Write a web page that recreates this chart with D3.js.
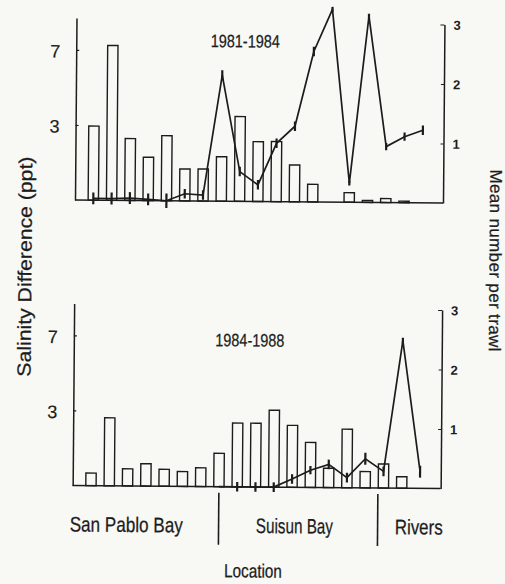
<!DOCTYPE html>
<html>
<head>
<meta charset="utf-8">
<script src="https://cdn.jsdelivr.net/npm/d3@7"></script>
<style>
  html, body { margin: 0; padding: 0; background: #f8f8f5; }
  svg { display: block; }
  .narrow { font-family: "Liberation Sans Narrow", "Arial Narrow", "Liberation Sans", Arial, sans-serif; stroke: #1c1c1c; stroke-width: 0.25; }
</style>
</head>
<body>
<script>
// ---------- DATA ----------
const stations = ["1","2","3","4","5","6","7","8","9","10","11","12","13","14","15","16","17","18","19"];

// Salinity difference (ppt) bars, read against the axis ticks (axis floor = -1)
const salinity8184 = [2.95, 7.25, 2.3, 1.31, 2.47, 0.7, 0.71, 1.37, 3.52, 2.19, 2.2, 0.96, -0.06, -1, -0.49, -0.9, -0.79, -0.92, -1];
const salinity8488 = [-0.33, 2.62, -0.09, 0.19, -0.1, -0.21, 0.0, 0.78, 2.4, 2.4, 3.1, 2.3, 1.4, 0.03, 2.12, -0.13, 0.28, -0.39, -1];

// Mean number per trawl (line) and error half-widths
const catch8184 = [0.03, 0.03, 0.04, 0.02, 0.0, 0.12, 0.1, 2.12, 0.5, 0.28, 0.98, 1.27, 2.53, 3.24, 0.32, 3.13, 0.94, 1.11, 1.22];
const err8184   = [0.1, 0.1, 0.1, 0.1, 0.12, 0.08, 0.08, 0.08, 0.08, 0.08, 0.08, 0.08, 0.08, 0.04, 0.04, 0.04, 0.06, 0.07, 0.08];
const catch8488 = [null, null, null, null, null, null, null, 0, 0, 0, 0, 0.14, 0.29, 0.39, 0.17, 0.49, 0.28, 2.48, 0.28];
const err8488   = [null, null, null, null, null, null, null, 0, 0.08, 0.08, 0.08, 0.08, 0.07, 0.08, 0.08, 0.1, 0.08, 0.05, 0.1];

const periodTitles = ["1981-1984", "1984-1988"];
const salinityTicks = [3, 7];
const salinityTickLabels = ["3", "7"];
const catchTicks = [1, 2, 3];

const regionNames = ["San Pablo Bay", "Suisun Bay", "Rivers"];
const regionCenters = [1.95, 11.15, 17.95];   // in station-index units
const regionDividers = [7.0, 15.7];           // in station-index units

// ---------- LAYOUT ----------
const W = 505, H = 584;
const x0 = 75, x1 = 443;
const ink = "#1c1c1c";

const svg = d3.select("body").append("svg").attr("width", W).attr("height", H);
svg.append("rect").attr("width", W).attr("height", H).attr("fill", "#f8f8f5");

// slight scan skew
const g = svg.append("g").attr("transform", "rotate(0.47,75,200)");

const x = d3.scalePoint().domain(stations).range([93.3, 422.3]);
const xIdx = i => x(stations[0]) + i * x.step();
const bw = 10.3;

const panels = [
  { title: periodTitles[0], sal: salinity8184, num: catch8184, err: err8184, base: 200, top: 18, tx: 244, ty: 46 },
  { title: periodTitles[1], sal: salinity8488, num: catch8488, err: err8488, base: 485.5, top: 303.5, tx: 251, ty: 345 }
];

panels.forEach((p, pi) => {
  const yL = d3.scaleLinear().domain([-1, 8.7]).range([p.base, p.top]);
  const yR = d3.scaleLinear().domain([0, 3]).range([p.base, p.base - 178.5]);
  const pg = g.append("g");

  // bars
  pg.selectAll("rect.bar").data(stations.map((s, i) => ({ s, v: p.sal[i] })))
    .join("rect").attr("class", "bar")
    .filter(d => yL.range()[0] - yL(d.v) > 0.4)
    .attr("x", d => x(d.s) - bw / 2)
    .attr("width", bw)
    .attr("y", d => yL(d.v))
    .attr("height", d => p.base - yL(d.v))
    .attr("fill", "none").attr("stroke", ink).attr("stroke-width", 1.4);

  // baseline
  pg.append("line").attr("x1", x0).attr("x2", x1).attr("y1", p.base).attr("y2", p.base)
    .attr("stroke", ink).attr("stroke-width", 1.5);

  // left axis
  const axL = pg.append("g").attr("transform", `translate(${x0},0)`)
    .call(d3.axisLeft(yL).tickValues(salinityTicks).tickSize(-3).tickSizeOuter(0).tickPadding(16)
      .tickFormat((d, i) => salinityTickLabels[i]));
  axL.select(".domain").attr("stroke", ink).attr("stroke-width", 1.5);
  axL.selectAll(".tick line").attr("stroke", ink).attr("stroke-width", 1.2);
  axL.selectAll(".tick text").attr("fill", ink).attr("font-size", 18)
    .attr("font-family", "'Liberation Sans', Arial, sans-serif").attr("dy", "0.4em")
    .attr("stroke", ink).attr("stroke-width", 0.2);

  // right axis
  const axR = pg.append("g").attr("transform", `translate(${x1},0)`)
    .call(d3.axisRight(yR).tickValues(catchTicks).tickSize(-3).tickSizeOuter(0).tickPadding(9).tickFormat(d3.format("d")));
  axR.select(".domain").attr("stroke", ink).attr("stroke-width", 1.5);
  axR.selectAll(".tick line").attr("stroke", ink).attr("stroke-width", 1.2).attr("x2", d => d === 3 ? -4 : -3);
  axR.selectAll(".tick text").attr("fill", ink).attr("font-size", 13).attr("font-weight", "bold")
    .attr("font-family", "'Liberation Sans', Arial, sans-serif").attr("dy", "0.35em");

  // line
  const pts = stations.map((s, i) => ({ s, v: p.num[i], e: p.err[i] }));
  const line = d3.line().defined(d => d.v != null).x(d => x(d.s)).y(d => yR(d.v));
  pg.append("path").datum(pts).attr("d", line)
    .attr("fill", "none").attr("stroke", ink).attr("stroke-width", 1.7).attr("stroke-linejoin", "miter");

  // error ticks
  pg.selectAll("line.err").data(pts.filter(d => d.v != null && d.e > 0))
    .join("line").attr("class", "err")
    .attr("x1", d => x(d.s)).attr("x2", d => x(d.s))
    .attr("y1", d => yR(d.v - d.e)).attr("y2", d => yR(d.v + d.e))
    .attr("stroke", ink).attr("stroke-width", 2.2);

  // title
  pg.append("text").attr("class", "narrow").attr("x", p.tx).attr("y", p.ty)
    .attr("text-anchor", "middle").attr("font-size", 18).attr("fill", ink)
    .attr("textLength", 69).attr("lengthAdjust", "spacingAndGlyphs")
    .text(p.title);

  if (pi === 1) {
    // region dividers
    pg.selectAll("line.div").data(regionDividers).join("line").attr("class", "div")
      .attr("x1", d => xIdx(d)).attr("x2", d => xIdx(d))
      .attr("y1", p.base + 6).attr("y2", p.base + 58)
      .attr("stroke", ink).attr("stroke-width", 1.6);
    const widths = [113, 77, 48];
    pg.selectAll("text.region").data(regionNames).join("text").attr("class", "region narrow")
      .attr("x", (d, i) => xIdx(regionCenters[i])).attr("y", p.base + 46)
      .attr("text-anchor", "middle").attr("font-size", 21).attr("fill", ink)
      .attr("textLength", (d, i) => widths[i]).attr("lengthAdjust", "spacingAndGlyphs")
      .text(d => d);
  }
});

// axis titles
g.append("text").attr("class", "narrow").attr("x", 256).attr("y", 576)
  .attr("text-anchor", "middle").attr("font-size", 19).attr("fill", ink)
  .attr("textLength", 58).attr("lengthAdjust", "spacingAndGlyphs").text("Location");

g.append("text").attr("class", "narrow")
  .attr("transform", "translate(32,267) rotate(-90)")
  .attr("text-anchor", "middle").attr("font-size", 19).attr("fill", ink)
  .attr("textLength", 220).attr("lengthAdjust", "spacingAndGlyphs")
  .text("Salinity Difference (ppt)");

g.append("text").attr("class", "narrow")
  .attr("transform", "translate(490,257) rotate(90)")
  .attr("text-anchor", "middle").attr("font-size", 17).attr("fill", ink)
  .attr("textLength", 182).attr("lengthAdjust", "spacing")
  .text("Mean number per trawl");
</script>
</body>
</html>
